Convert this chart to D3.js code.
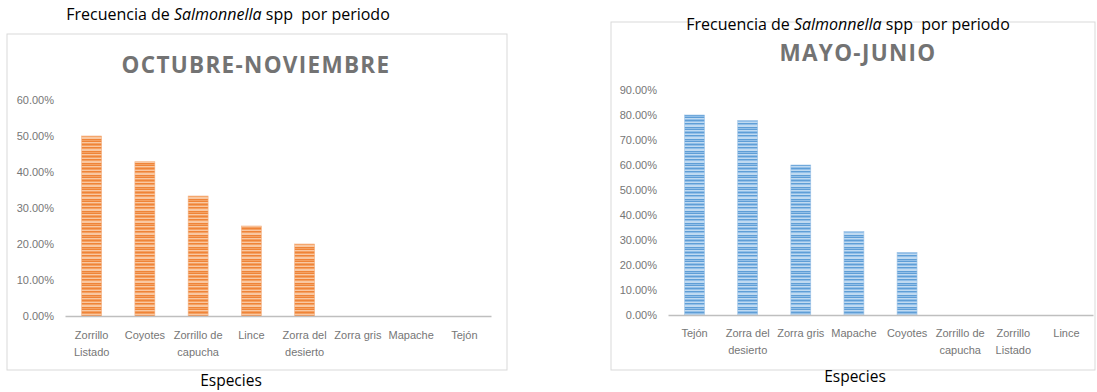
<!DOCTYPE html>
<html>
<head>
<meta charset="utf-8">
<script src="https://cdn.jsdelivr.net/npm/d3@7"></script>
<style>
html,body{margin:0;padding:0;background:#fff;}
svg{display:block;}
</style>
</head>
<body>
<svg id="chart" width="1097" height="392"></svg>
<script>
// ---- DATA ----
const headerText = ["Frecuencia de ", "Salmonnella", " spp\u00A0 por periodo"];
const axisTitle = "Especies";

const octNovTitle = "OCTUBRE-NOVIEMBRE";
const octNovCategories = ["Zorrillo Listado", "Coyotes", "Zorrillo de capucha", "Lince", "Zorra del desierto", "Zorra gris", "Mapache", "Tejón"];
const octNovValues = [0.50, 0.4286, 0.3333, 0.25, 0.20, 0, 0, 0];
const octNovTicks = [0, 0.1, 0.2, 0.3, 0.4, 0.5, 0.6];

const mayJunTitle = "MAYO-JUNIO";
const mayJunCategories = ["Tejón", "Zorra del desierto", "Zorra gris", "Mapache", "Coyotes", "Zorrillo de capucha", "Zorrillo Listado", "Lince"];
const mayJunValues = [0.80, 0.7778, 0.60, 0.3333, 0.25, 0, 0, 0];
const mayJunTicks = [0, 0.1, 0.2, 0.3, 0.4, 0.5, 0.6, 0.7, 0.8, 0.9];

// ---- DRAW ----
const svg = d3.select("#chart");
const defs = svg.append("defs");

function stripePattern(id, base, dark, light) {
  const p = defs.append("pattern").attr("id", id)
    .attr("patternUnits", "userSpaceOnUse").attr("width", 10).attr("height", 12);
  p.append("rect").attr("width", 10).attr("height", 12).attr("fill", base);
  [[0,1,dark],[2,1,light],[3,1,dark],[5,2,light],[7,1,dark],[9,1,dark],[10,1,light]].forEach(([y,h,c]) => {
    p.append("rect").attr("y", y).attr("width", 10).attr("height", h).attr("fill", c);
  });
}
stripePattern("orangeStripes", "#f4a163", "#ef8438", "#f9c8a2");
stripePattern("blueStripes", "#92bfe8", "#5f9ed6", "#c0daf1");

const pct = d3.format(".2%");

function wrapLabel(name, maxChars) {
  const words = name.split(" ");
  const lines = [];
  let cur = "";
  words.forEach(w => {
    const test = cur ? cur + " " + w : w;
    if (test.length > maxChars && cur) { lines.push(cur); cur = w; }
    else cur = test;
  });
  if (cur) lines.push(cur);
  return lines;
}

function drawChart(cfg) {
  const g = svg.append("g");
  // frame
  g.append("rect").attr("x", cfg.frame[0]).attr("y", cfg.frame[1])
    .attr("width", cfg.frame[2]).attr("height", cfg.frame[3])
    .attr("fill", "#fff").attr("stroke", "#d9d9d9").attr("stroke-width", 1);

  // header
  const h = g.append("text").attr("x", cfg.headerPos[0]).attr("y", cfg.headerPos[1])
    .attr("text-anchor", "middle").attr("font-family", "'Open Sans', sans-serif")
    .attr("font-size", 16).attr("fill", "#000");
  h.append("tspan").text(headerText[0]);
  h.append("tspan").attr("font-style", "italic").text(headerText[1]);
  h.append("tspan").text(headerText[2]);

  // title
  g.append("text").attr("x", cfg.titlePos[0]).attr("y", cfg.titlePos[1])
    .attr("text-anchor", "middle").attr("font-family", "'Open Sans', sans-serif")
    .attr("font-weight", "bold").attr("font-size", 22.5).attr("letter-spacing", 1.3)
    .attr("fill", "#737373").text(cfg.title);

  const x = d3.scaleBand().domain(cfg.categories).range(cfg.xRange).paddingInner(0.625).paddingOuter(0.3125);
  const y = d3.scaleLinear().domain([0, cfg.ticks[cfg.ticks.length - 1]]).range(cfg.yRange);

  // y axis labels
  const yAxis = d3.axisLeft(y).tickValues(cfg.ticks).tickFormat(pct).tickSize(0).tickPadding(0);
  const ya = g.append("g").attr("transform", `translate(${cfg.yLabelX},0)`).call(yAxis);
  ya.select(".domain").remove();
  ya.selectAll("text").attr("font-family", "'Liberation Sans', Arial, sans-serif")
    .attr("font-size", 11).attr("fill", "#767676");

  // bars
  g.selectAll("rect.bar").data(cfg.values).enter().append("rect").attr("class", "bar")
    .attr("x", (d, i) => x(cfg.categories[i]))
    .attr("y", d => y(d))
    .attr("width", x.bandwidth())
    .attr("height", d => y(0) - y(d))
    .attr("fill", `url(#${cfg.pattern})`)
    .attr("stroke", cfg.barStroke).attr("stroke-width", 0.6);

  // x axis baseline + labels
  const xAxis = d3.axisBottom(x).tickSize(0).tickPadding(0).tickFormat("");
  const xa = g.append("g").attr("transform", `translate(0,${y(0)})`).call(xAxis);
  xa.select(".domain").attr("stroke", "#bfbfbf").attr("stroke-width", 1.5);
  xa.selectAll(".tick").each(function(d) {
    const t = d3.select(this).append("text").attr("text-anchor", "middle")
      .attr("font-family", "'Liberation Sans', Arial, sans-serif")
      .attr("font-size", 11).attr("fill", "#767676").attr("stroke", "none");
    wrapLabel(d, 11).forEach((line, k) => {
      t.append("tspan").attr("x", 0).attr("y", cfg.xLabelDy + k * 17).text(line);
    });
  });

  // axis title
  g.append("text").attr("x", cfg.axisTitlePos[0]).attr("y", cfg.axisTitlePos[1])
    .attr("text-anchor", "middle").attr("font-family", "'Open Sans', sans-serif")
    .attr("font-size", 15.5).attr("fill", "#000").text(axisTitle);
}

drawChart({
  frame: [7, 34, 500, 336],
  headerPos: [228, 20],
  title: octNovTitle, titlePos: [256, 73],
  categories: octNovCategories, values: octNovValues, ticks: octNovTicks,
  xRange: [65, 491], yRange: [316, 100], yLabelX: 54,
  pattern: "orangeStripes", barStroke: "#f4b183",
  xLabelDy: 23,
  axisTitlePos: [231, 386]
});

drawChart({
  frame: [611, 22, 484, 348],
  headerPos: [848, 30],
  title: mayJunTitle, titlePos: [858, 61],
  categories: mayJunCategories, values: mayJunValues, ticks: mayJunTicks,
  xRange: [668, 1093], yRange: [315, 90], yLabelX: 657,
  pattern: "blueStripes", barStroke: "#9dc3e6",
  xLabelDy: 22,
  axisTitlePos: [855, 382]
});
</script>
</body>
</html>
